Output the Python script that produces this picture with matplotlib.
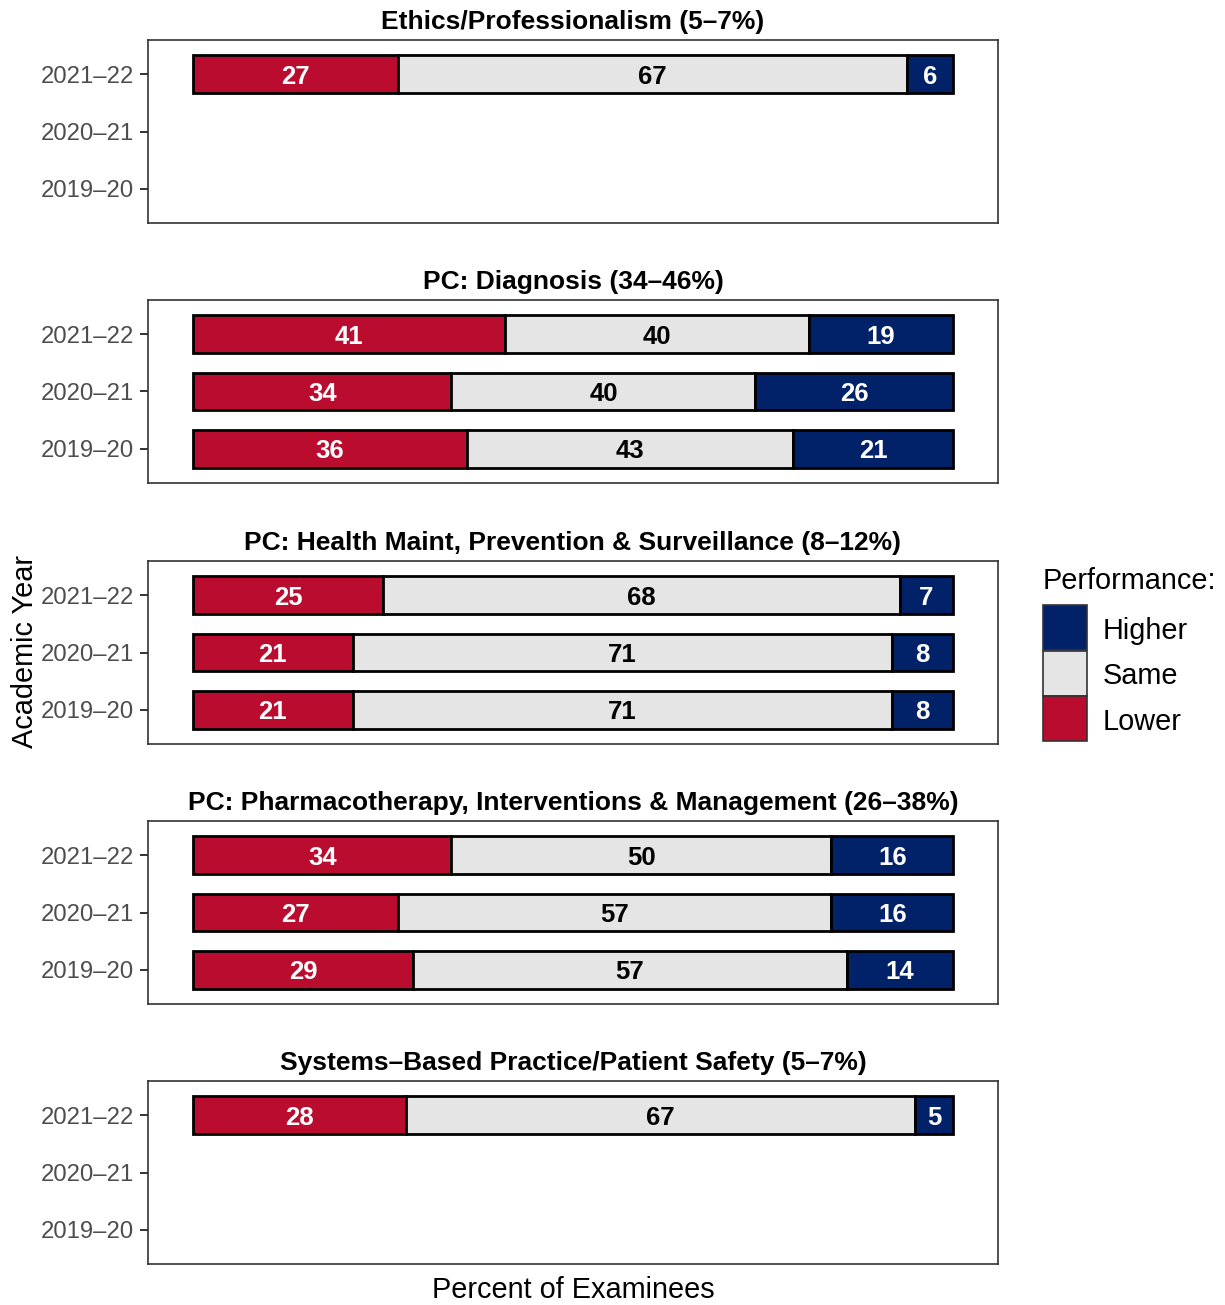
import numpy as np
import matplotlib
matplotlib.use("Agg")
import matplotlib.pyplot as plt
from matplotlib.patches import Rectangle

plt.rcParams["font.family"] = ["Liberation Sans", "DejaVu Sans"]

years = ["2021\u201322", "2020\u201321", "2019\u201320"]
panels = [
    "Ethics/Professionalism (5\u20137%)",
    "PC: Diagnosis (34\u201346%)",
    "PC: Health Maint, Prevention & Surveillance (8\u201312%)",
    "PC: Pharmacotherapy, Interventions & Management (26\u201338%)",
    "Systems\u2013Based Practice/Patient Safety (5\u20137%)",
]
# values per panel, ordered as years above; None = no data
lower = [[27, None, None], [41, 34, 36], [25, 21, 21], [34, 27, 29], [28, None, None]]
same = [[67, None, None], [40, 40, 43], [68, 71, 71], [50, 57, 57], [67, None, None]]
higher = [[6, None, None], [19, 26, 21], [7, 8, 8], [16, 16, 14], [5, None, None]]

legend_labels = ["Higher", "Same", "Lower"]

c_lower = "#BA0C2F"
c_same = "#E5E5E5"
c_higher = "#012169"

W, H = 1225, 1305
fig = plt.figure(figsize=(W / 100, H / 100), dpi=100)

tops = [40, 300, 561, 821, 1081]
ph = 183
left, right = 148, 998

for p, title in enumerate(panels):
    ax = fig.add_axes([left / W, 1 - (tops[p] + ph) / H, (right - left) / W, ph / H])
    ypos = np.arange(len(years))[::-1] + 1  # 2021-22 on top
    for i, yr in enumerate(years):
        if lower[p][i] is None:
            continue
        segs = [(lower[p][i], c_lower, "white"),
                (same[p][i], c_same, "black"),
                (higher[p][i], c_higher, "white")]
        start = 0
        for val, col, tcol in segs:
            ax.barh(ypos[i], val, left=start, height=0.66, color=col,
                    edgecolor="black", linewidth=2)
            ax.text(start + val / 2, ypos[i], str(val), ha="center", va="center_baseline",
                    color=tcol, fontsize=18.5, fontweight="bold")
            start += val
    ax.set_xlim(-5.92, 105.92)
    ax.set_ylim(0.4, 3.6)
    ax.set_yticks(ypos)
    ax.set_yticklabels(years, fontsize=17.2, color="#4D4D4D")
    ax.tick_params(axis="y", length=5.5, width=1.4, color="#333333", pad=4.5)
    ax.set_xticks([])
    for s in ax.spines.values():
        s.set_color("#333333")
        s.set_linewidth(1.2)
    ax.set_title(title, fontsize=19, fontweight="bold", pad=8)

fig.text(573 / W, 1 - 1290 / H, "Percent of Examinees", ha="center", va="center",
         fontsize=20.8)
fig.text(25 / W, 1 - 652 / H, "Academic Year", ha="center", va="center",
         rotation=90, fontsize=20.8)

# legend drawn by hand to match key sizes
fig.text(1043 / W, 1 - 578 / H, "Performance:", ha="left", va="center_baseline",
         fontsize=20.8)
key_cols = [c_higher, c_same, c_lower]
for k, (lab, col) in enumerate(zip(legend_labels, key_cols)):
    ky = 605 + k * 45.5
    fig.patches.append(Rectangle((1043 / W, 1 - (ky + 45) / H), 44 / W, 45 / H,
                                 transform=fig.transFigure, facecolor=col,
                                 edgecolor="#333333", linewidth=1.2))
    fig.text(1103 / W, 1 - (ky + 22.5) / H, lab, ha="left", va="center_baseline",
             fontsize=20.8)

fig.savefig("out.png", dpi=100)
